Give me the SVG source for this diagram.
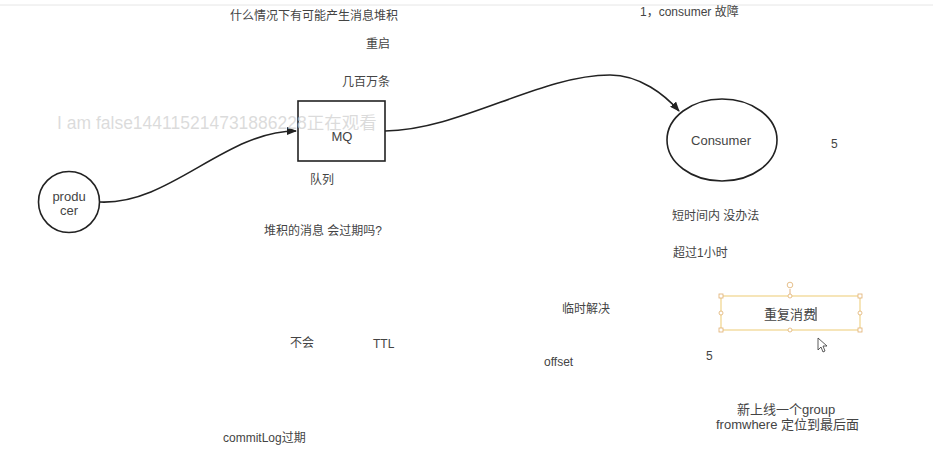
<svg xmlns="http://www.w3.org/2000/svg" width="933" height="470" viewBox="0 0 933 470">
<style>
.t{font-family:"Liberation Sans","Noto Sans CJK SC",sans-serif;font-size:12px;fill:#444;}
.n{font-family:"Liberation Sans","Noto Sans CJK SC",sans-serif;font-size:13px;fill:#444;text-anchor:middle;}
.s{fill:#fff;stroke:#222;stroke-width:1.6;}
.c{fill:none;stroke:#222;stroke-width:1.6;}
.h{fill:#fff;stroke:#e0b070;stroke-width:0.8;}
</style>
<defs>
<marker id="ah" markerWidth="10" markerHeight="8" refX="9" refY="4" orient="auto" markerUnits="userSpaceOnUse">
<path d="M0,0 L10,4 L0,8 Z" fill="#222"/>
</marker>
</defs>
<rect width="933" height="470" fill="#fff"/>
<line x1="0" y1="5" x2="933" y2="5" stroke="#e6e6e6" stroke-width="1"/>
<g id="connectors">
<path class="c" d="M100,202 C170,205 225,131 296,131" marker-end="url(#ah)"/>
<path class="c" d="M385,131 C460,130 540,75 610,75 C640,75 665,95 679,111" marker-end="url(#ah)"/>
</g>
<g id="producer">
<circle class="s" cx="69" cy="202" r="30.5"/>
<text class="n" x="69" y="201">produ</text>
<text class="n" x="69" y="215">cer</text>
</g>
<g id="mq">
<rect class="s" x="298" y="101" width="87" height="60"/>
<text class="n" x="342" y="141">MQ</text>
</g>
<text x="57" y="129" style="font-family:'Liberation Sans','Noto Sans CJK SC',sans-serif;font-size:17.5px;fill:#d0d0d0;fill-opacity:0.75">I am  false144115214731886228正在观看</text>
<g id="consumer">
<ellipse class="s" cx="722" cy="140" rx="55" ry="41"/>
<text class="n" x="721" y="145">Consumer</text>
</g>
<g id="repeat">
<rect x="721" y="296" width="139" height="34" fill="none" stroke="#f0d48a" stroke-width="1.2"/>
<line x1="790" y1="289" x2="790" y2="296" stroke="#d9a060" stroke-width="0.8"/>
<circle class="h" cx="790" cy="285" r="2.8"/>
<rect class="h" x="719" y="294" width="4" height="4"/>
<rect class="h" x="858" y="294" width="4" height="4"/>
<rect class="h" x="719" y="328" width="4" height="4"/>
<rect class="h" x="858" y="328" width="4" height="4"/>
<circle class="h" cx="790" cy="296" r="2"/>
<circle class="h" cx="790" cy="330" r="2"/>
<circle class="h" cx="721" cy="313" r="2"/>
<circle class="h" cx="860" cy="313" r="2"/>
<text class="t" x="764" y="319" style="font-size:13px">重复消费</text>
<line x1="816" y1="307" x2="816" y2="321" stroke="#222" stroke-width="1"/>
</g>
<path d="M818,338 L818,350 L821,347 L823,352 L825,351 L823,346 L827,346 Z" fill="#fff" stroke="#333" stroke-width="0.8"/>
<g id="labels">
<text class="t" x="230" y="20">什么情况下有可能产生消息堆积</text>
<text class="t" x="366" y="48">重启</text>
<text class="t" x="342" y="86">几百万条</text>
<text class="t" x="310" y="184">队列</text>
<text class="t" x="264" y="235">堆积的消息 会过期吗?</text>
<text class="t" x="640" y="16">1，consumer 故障</text>
<text class="t" x="831" y="148">5</text>
<text class="t" x="672" y="220">短时间内 没办法</text>
<text class="t" x="673" y="257">超过1小时</text>
<text class="t" x="562" y="313">临时解决</text>
<text class="t" x="706" y="360">5</text>
<text class="t" x="544" y="366">offset</text>
<text class="t" x="290" y="347">不会</text>
<text class="t" x="373" y="348">TTL</text>
<text class="t" x="223" y="442">commitLog过期</text>
<text class="t" x="737" y="414" style="font-size:13px">新上线一个group</text>
<text class="t" x="716" y="429" style="font-size:13px">fromwhere 定位到最后面</text>
</g>
</svg>
